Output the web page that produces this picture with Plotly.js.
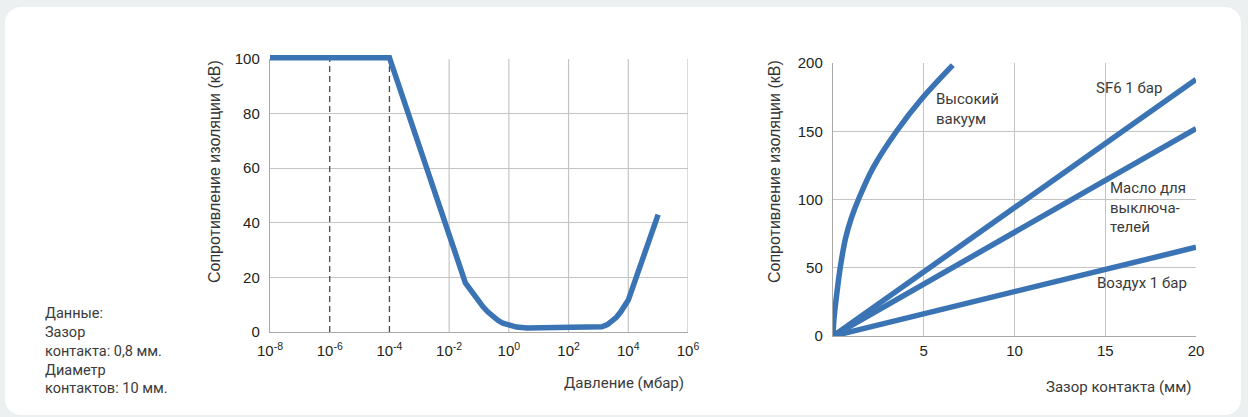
<!DOCTYPE html>
<html>
<head>
<meta charset="utf-8">
<script src="https://cdn.plot.ly/plotly-3.0.1.min.js"></script>
<style>
  html, body { margin: 0; padding: 0; background: #edf0f0; width: 1248px; height: 417px; overflow: hidden; }
  #panel { position: absolute; left: 5px; top: 7px; width: 1236px; height: 408px; background: #ffffff; border-radius: 16px; }
  #chart { position: absolute; left: 0; top: 0; width: 1248px; height: 417px; }
</style>
</head>
<body>
<div id="panel"></div>
<div id="chart"></div>
<script>
// ---- Left chart: insulation strength vs pressure ----
const pressureMbar = [1e-8, 1e-4, 0.035, 0.05, 0.063, 0.089, 0.135, 0.2, 0.3, 0.43, 0.63, 1, 1.8, 4, 10,
                      650, 900, 1300, 2000, 2750, 4000, 5600, 7600, 10000, 100000];
const strengthVsPressureKv = [100.5, 100.5, 18, 15.5, 14, 11.5, 9.3, 7.3, 5.6, 4.3, 3.2, 2.4, 1.8, 1.5, 1.5,
                              1.5, 1.6, 1.9, 2.7, 3.8, 5.4, 7.4, 9.5, 11.7, 43];
const pressureTicks = [1e-8, 1e-6, 1e-4, 1e-2, 1e0, 1e2, 1e4, 1e6];
const pressureTickText = ['10<sup>-8</sup>', '10<sup>-6</sup>', '10<sup>-4</sup>', '10<sup>-2</sup>',
                          '10<sup>0</sup>', '10<sup>2</sup>', '10<sup>4</sup>', '10<sup>6</sup>'];
const solidGridPressures = [1e-2, 1e0, 1e2, 1e4, 1e6];
const dashedPressures = [1e-6, 1e-4];

// ---- Right chart: insulation strength vs contact gap ----
const vacuumGapMm = [0, 0.05, 0.2, 0.42, 0.7, 1.0, 1.4, 2.2, 3.5, 4.9, 6.6];
const vacuumKv = [0, 12, 30, 52, 72, 86, 100, 123, 150, 174, 198.5];
const lineGapMm = [0, 20];
const sf6Kv = [0, 188];
const oilKv = [0, 152];
const airKv = [0, 65];
const gapTicks = [5, 10, 15, 20];

const notesText = ['Данные:', 'Зазор', 'контакта: 0,8 мм.', 'Диаметр', 'контактов: 10 мм.'];
const yTitle = 'Сопротивление изоляции (кВ)';
const xTitleLeft = 'Давление (мбар)';
const xTitleRight = 'Зазор контакта (мм)';
const curveLabels = [
  {text: 'Высокий<br>вакуум', x: 5.55, y: 166},
  {text: 'SF6 1 бар', x: 14.4, y: 181.5},
  {text: 'Масло для<br>выключа-<br>телей', x: 15.15, y: 94},
  {text: 'Воздух 1 бар', x: 14.45, y: 39}
];

const BLUE = '#3a74b4';
const GRID = '#c4c4c4';
const AXLINE = '#a8a8a8';
const TICKFONT = {family: 'Liberation Sans, Arial, sans-serif', size: 15, color: '#231f20'};
const TEXTFONT = {family: 'Roboto, sans-serif', size: 14.5, color: '#3a3a3a'};
const LABELFONT = {family: 'Roboto, sans-serif', size: 15, color: '#3a3a3a'};
const W = 1248, H = 417;
const px = v => v / W, py = v => 1 - v / H;

// vertical reference lines built from the pressure arrays
function verticals(vals, top) {
  const xs = [], ys = [];
  vals.forEach(p => { xs.push(p, p, null); ys.push(0, top, null); });
  return {xs, ys};
}
const solid = verticals(solidGridPressures, 100);
const dashed = verticals(dashedPressures, 100);

const traces = [
  {x: solid.xs, y: solid.ys, xaxis: 'x', yaxis: 'y', mode: 'lines', hoverinfo: 'skip',
   line: {color: GRID, width: 1.2}, showlegend: false},
  {x: dashed.xs, y: dashed.ys, xaxis: 'x', yaxis: 'y', mode: 'lines', hoverinfo: 'skip',
   line: {color: '#4a4a4a', width: 1.3, dash: '6px,4px'}, showlegend: false},
  {x: pressureMbar, y: strengthVsPressureKv, xaxis: 'x', yaxis: 'y3', mode: 'lines',
   line: {color: BLUE, width: 5.5}, showlegend: false},
  {x: vacuumGapMm, y: vacuumKv, xaxis: 'x2', yaxis: 'y2', mode: 'lines',
   line: {color: BLUE, width: 5.5, shape: 'spline', smoothing: 1}, showlegend: false},
  {x: lineGapMm, y: sf6Kv, xaxis: 'x2', yaxis: 'y2', mode: 'lines', line: {color: BLUE, width: 5.5}, showlegend: false},
  {x: lineGapMm, y: oilKv, xaxis: 'x2', yaxis: 'y2', mode: 'lines', line: {color: BLUE, width: 5.5}, showlegend: false},
  {x: lineGapMm, y: airKv, xaxis: 'x2', yaxis: 'y2', mode: 'lines', line: {color: BLUE, width: 5.5}, showlegend: false}
];

const leftTop = 59, leftBottom = 332;
const leftDataTop = 48;
const YTFONT = {family: 'Liberation Sans, Arial, sans-serif', size: 16, color: '#333'};
const annotations = [
  {xref: 'paper', yref: 'paper', x: px(43), y: py(303), xanchor: 'left', yanchor: 'top', align: 'left',
   text: notesText.join('<br>'), showarrow: false, font: TEXTFONT},
  {xref: 'paper', yref: 'paper', x: px(686), y: py(383), xanchor: 'right', yanchor: 'middle',
   text: xTitleLeft, showarrow: false, font: LABELFONT},
  {xref: 'paper', yref: 'paper', x: px(1194), y: py(387), xanchor: 'right', yanchor: 'middle',
   text: xTitleRight, showarrow: false, font: LABELFONT},
  {xref: 'paper', yref: 'paper', x: px(214), y: py(172), xanchor: 'center', yanchor: 'middle', textangle: -90,
   text: yTitle, showarrow: false, font: YTFONT},
  {xref: 'paper', yref: 'paper', x: px(774), y: py(172), xanchor: 'center', yanchor: 'middle', textangle: -90,
   text: yTitle, showarrow: false, font: YTFONT}
];
curveLabels.forEach(l => annotations.push({
  xref: 'x2', yref: 'y2', x: l.x, y: l.y, xanchor: 'left', yanchor: 'middle', align: 'left',
  text: l.text, showarrow: false, font: LABELFONT
}));

const layout = {
  width: W, height: H,
  margin: {l: 0, r: 0, t: 0, b: 0},
  paper_bgcolor: 'rgba(0,0,0,0)', plot_bgcolor: 'rgba(0,0,0,0)',
  showlegend: false,
  xaxis: {
    domain: [px(270), px(688)], type: 'log', range: [-8, 6],
    tickmode: 'array', tickvals: pressureTicks, ticktext: pressureTickText,
    anchor: 'y', showgrid: false, zeroline: false, showline: true, linecolor: AXLINE, linewidth: 1.2,
    ticks: '', ticklabelstandoff: 5, tickfont: TICKFONT
  },
  yaxis: {
    domain: [py(leftBottom), py(leftTop)], range: [0, 100], dtick: 20, anchor: 'x',
    showgrid: true, gridcolor: GRID, gridwidth: 1.2, zeroline: false, showline: true, linecolor: AXLINE, linewidth: 1.2,
    ticks: '', ticklabelstandoff: 6, tickfont: TICKFONT
  },
  yaxis3: {
    domain: [py(leftBottom), py(leftDataTop)], range: [0, 100 * (leftBottom - leftDataTop) / (leftBottom - leftTop)],
    anchor: 'x', visible: false
  },
  xaxis2: {
    domain: [px(833), px(1196)], range: [0, 20], tickmode: 'array', tickvals: gapTicks, anchor: 'y2',
    showgrid: true, gridcolor: GRID, gridwidth: 1.2, zeroline: false, showline: true, linecolor: AXLINE, linewidth: 1.2,
    ticks: '', ticklabelstandoff: 1, tickfont: TICKFONT
  },
  yaxis2: {
    domain: [py(336), py(63)], range: [0, 200], dtick: 50, anchor: 'x2',
    showgrid: true, gridcolor: GRID, gridwidth: 1.2, zeroline: false, showline: true, linecolor: AXLINE, linewidth: 1.2,
    ticks: '', ticklabelstandoff: 6, tickfont: TICKFONT
  },
  annotations: annotations
};

Plotly.newPlot('chart', traces, layout, {displayModeBar: false, staticPlot: true});
</script>
</body>
</html>
